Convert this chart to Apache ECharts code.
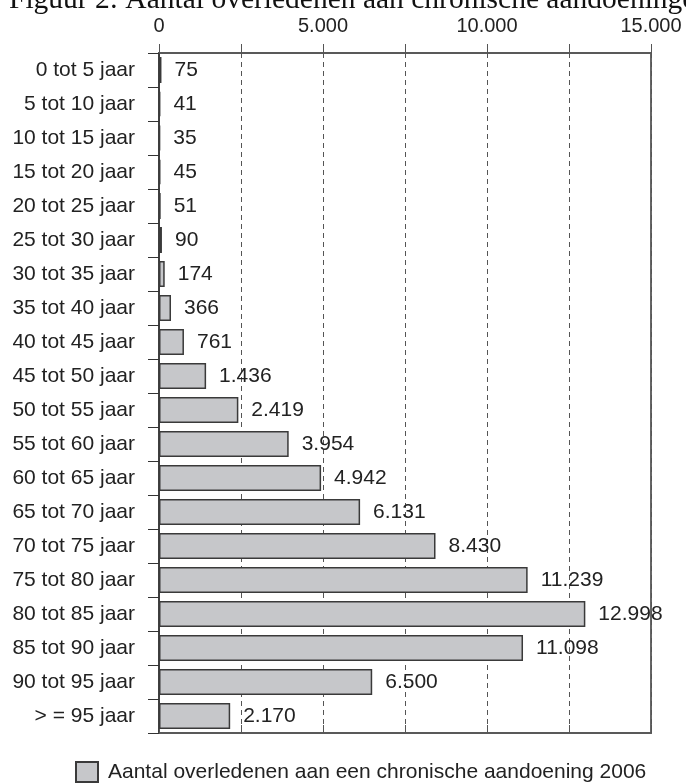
<!DOCTYPE html>
<html>
<head>
<meta charset="utf-8">
<script src="https://cdn.jsdelivr.net/npm/echarts@6/dist/echarts.min.js"></script>
<style>
  html, body { margin: 0; padding: 0; background: #fff; }
  #chart { width: 686px; height: 783px; }
</style>
</head>
<body>
<div id="chart"></div>
<script>
// Age groups (top to bottom) and number of deaths per group
const ageGroups = [
  '0 tot 5 jaar', '5 tot 10 jaar', '10 tot 15 jaar', '15 tot 20 jaar',
  '20 tot 25 jaar', '25 tot 30 jaar', '30 tot 35 jaar', '35 tot 40 jaar',
  '40 tot 45 jaar', '45 tot 50 jaar', '50 tot 55 jaar', '55 tot 60 jaar',
  '60 tot 65 jaar', '65 tot 70 jaar', '70 tot 75 jaar', '75 tot 80 jaar',
  '80 tot 85 jaar', '85 tot 90 jaar', '90 tot 95 jaar', '> = 95 jaar'
];
const deaths = [
  75, 41, 35, 45, 51, 90, 174, 366, 761, 1436,
  2419, 3954, 4942, 6131, 8430, 11239, 12998, 11098, 6500, 2170
];
const seriesName = 'Aantal overledenen aan een chronische aandoening 2006';
const titleText = 'Figuur 2: Aantal overledenen aan chronische aandoeningen';
const axisMax = 15000;
const gridStep = 2500;
const labelStep = 5000;

// Dutch thousands separator
const fmt = v => String(v).replace(/\B(?=(\d{3})+(?!\d))/g, '.');

const sans = '"Liberation Sans", Arial, Helvetica, sans-serif';
const textColor = '#222';

const chart = echarts.init(document.getElementById('chart'), null, { renderer: 'canvas' });

chart.setOption({
  animation: false,
  backgroundColor: '#fff',
  graphic: [{
    type: 'text',
    left: 9,
    top: -15,
    style: {
      text: titleText,
      font: '29.5px "Liberation Serif", "Times New Roman", serif',
      fill: '#111'
    }
  }],
  grid: {
    left: 159, right: 35, top: 53, bottom: 50,
    show: true,
    borderColor: '#666',
    borderWidth: 2
  },
  legend: {
    left: 75,
    top: 761,
    padding: 0,
    itemWidth: 22,
    itemHeight: 20,
    icon: 'rect',
    textStyle: { fontFamily: sans, fontSize: 21, color: textColor, padding: [0, 0, 0, 5] },
    data: [seriesName]
  },
  xAxis: [{
    type: 'value',
    position: 'top',
    min: 0,
    max: axisMax,
    interval: gridStep,
    axisLine: { show: true, lineStyle: { color: '#555', width: 1.5 } },
    axisTick: { show: true, length: 9, lineStyle: { color: '#555', width: 1 } },
    axisLabel: {
      margin: 17,
      fontFamily: sans,
      fontSize: 20,
      color: textColor,
      formatter: v => (v % labelStep === 0 ? fmt(v) : '')
    },
    splitLine: { show: true, lineStyle: { color: '#555', type: [5, 4], width: 1 } }
  }, {
    type: 'value',
    position: 'bottom',
    min: 0,
    max: axisMax,
    interval: gridStep,
    axisLine: { show: true, lineStyle: { color: '#555', width: 1.5 } },
    axisTick: { show: true, inside: true, length: 8, lineStyle: { color: '#555', width: 1 } },
    axisLabel: { show: false },
    splitLine: { show: false }
  }],
  yAxis: {
    type: 'category',
    inverse: true,
    data: ageGroups,
    axisLine: { show: true, lineStyle: { color: '#333', width: 1.5 } },
    axisTick: { show: true, length: 11, lineStyle: { color: '#333', width: 1 } },
    axisLabel: { margin: 24, fontFamily: sans, fontSize: 21, color: textColor }
  },
  series: [{
    name: seriesName,
    type: 'bar',
    xAxisIndex: 0,
    data: deaths,
    barWidth: 26,
    itemStyle: { color: '#c6c7ca', borderColor: '#3a3a3a', borderWidth: 1.5 },
    label: {
      show: true,
      position: 'right',
      distance: 13,
      fontFamily: sans,
      fontSize: 21,
      color: textColor,
      formatter: p => fmt(p.value)
    }
  }]
});
</script>
</body>
</html>
